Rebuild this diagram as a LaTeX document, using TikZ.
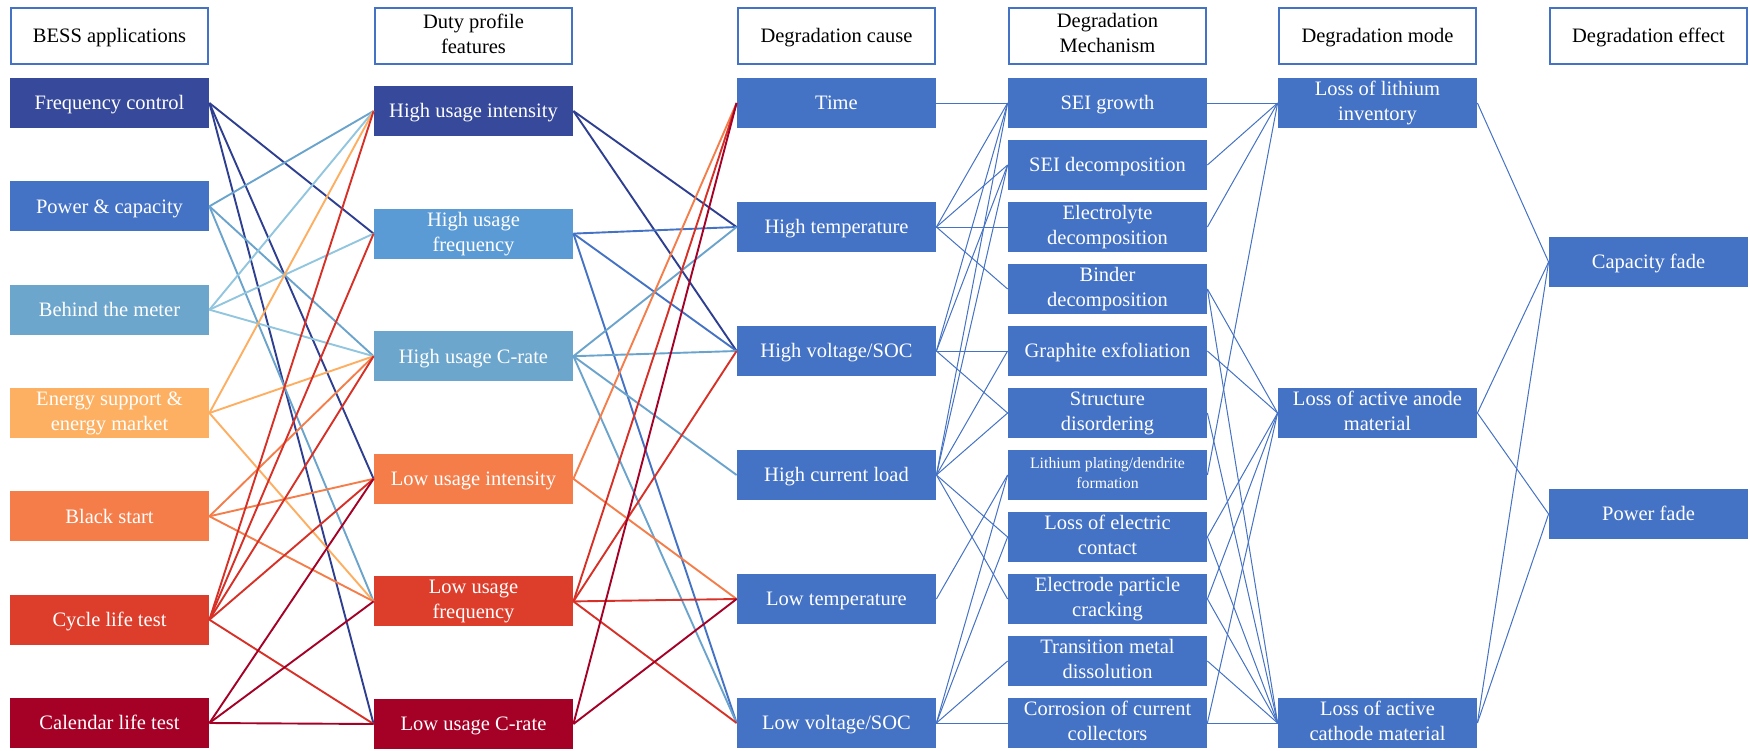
\documentclass[tikz,border=0pt]{standalone}
\usepackage{fontspec}
\setmainfont{Liberation Serif}
\definecolor{cA}{HTML}{36499A}
\definecolor{cB}{HTML}{4472C4}
\definecolor{cC}{HTML}{6CA6CD}
\definecolor{cD}{HTML}{FDB062}
\definecolor{cE}{HTML}{F47D4A}
\definecolor{cF}{HTML}{DD3E2C}
\definecolor{cG}{HTML}{A50026}
\definecolor{cH}{HTML}{5B9BD5}
\definecolor{lA}{HTML}{2E3F91}
\definecolor{lB}{HTML}{6AA3CC}
\definecolor{lC}{HTML}{92C5DE}
\definecolor{lD}{HTML}{FDAE61}
\definecolor{lE}{HTML}{F47D4A}
\definecolor{lF}{HTML}{D73027}
\definecolor{lG}{HTML}{A50026}
\definecolor{lH}{HTML}{4472C4}
\newcommand\sx{\rule[-0.216em]{0pt}{1.107em}}
\begin{document}
\begin{tikzpicture}[x=0.5pt,y=-0.5pt,
  b1/.style={rectangle, minimum width=99.5pt, minimum height=25pt, inner sep=0pt,
    text=white, align=center, font=\fontsize{10.25}{12.5}\selectfont,
    execute at begin node=\sx},
  h1s/.style={rectangle, draw=lH, line width=1pt, fill=white, minimum width=98.5pt,
    minimum height=28pt, inner sep=0pt, align=center, text=black,
    font=\fontsize{10.25}{12.5}\selectfont, execute at begin node=\sx},
  thick1/.style={line width=0.95pt},
  thin1/.style={line width=0.5pt, draw=lH}]
\useasboundingbox (0,0) rectangle (1750,750);
% headers
\node[h1s] (h1) at (109.5,35.5) {BESS applications};
\node[h1s] (h2) at (473.5,35.5) {Duty profile\\\smash{features}};
\node[h1s] (h3) at (836.5,35.5) {Degradation cause};
\node[h1s] (h4) at (1107.5,35.5) {Degradation\\\smash{Mechanism}};
\node[h1s] (h5) at (1377.5,35.5) {Degradation mode};
\node[h1s] (h6) at (1648.5,35.5) {Degradation effect};
% column 1
\node[b1,fill=cA] (fc) at (109.5,103) {Frequency control};
\node[b1,fill=cB] (pc) at (109.5,206.3) {Power \& capacity};
\node[b1,fill=cC] (btm) at (109.5,309.7) {Behind the meter};
\node[b1,fill=cD] (es) at (109.5,413) {Energy support \&\\\smash{energy market}};
\node[b1,fill=cE] (bs) at (109.5,516.3) {Black start};
\node[b1,fill=cF] (clt) at (109.5,619.7) {Cycle life test};
\node[b1,fill=cG] (cal) at (109.5,723) {Calendar life test};
% column 2
\node[b1,fill=cA] (hui) at (473.5,111) {High usage intensity};
\node[b1,fill=cH] (huf) at (473.5,233.6) {High usage\\\smash{frequency}};
\node[b1,fill=cC] (huc) at (473.5,356.2) {High usage C-rate};
\node[b1,fill=cE] (lui) at (473.5,478.8) {Low usage intensity};
\node[b1,fill=cF] (luf) at (473.5,601.4) {Low usage\\\smash{frequency}};
\node[b1,fill=cG] (luc) at (473.5,724) {Low usage C-rate};
% column 3
\node[b1,fill=cB] (time) at (836.5,103) {Time};
\node[b1,fill=cB] (ht) at (836.5,227) {High temperature};
\node[b1,fill=cB] (hv) at (836.5,351) {High voltage/SOC};
\node[b1,fill=cB] (hcl) at (836.5,475) {High current load};
\node[b1,fill=cB] (lt) at (836.5,599) {Low temperature};
\node[b1,fill=cB] (lv) at (836.5,723) {Low voltage/SOC};
% column 4
\node[b1,fill=cB] (m1) at (1107.5,103) {SEI growth};
\node[b1,fill=cB] (m2) at (1107.5,165) {SEI decomposition};
\node[b1,fill=cB] (m3) at (1107.5,227) {Electrolyte\\\smash{decomposition}};
\node[b1,fill=cB] (m4) at (1107.5,289) {Binder\\\smash{decomposition}};
\node[b1,fill=cB] (m5) at (1107.5,351) {Graphite exfoliation};
\node[b1,fill=cB] (m6) at (1107.5,413) {Structure\\\smash{disordering}};
\node[b1,fill=cB,font=\fontsize{7.9}{10}\selectfont] (m7) at (1107.5,475) {Lithium plating/dendrite\\\smash{formation}};
\node[b1,fill=cB] (m8) at (1107.5,537) {Loss of electric\\\smash{contact}};
\node[b1,fill=cB] (m9) at (1107.5,599) {Electrode particle\\\smash{cracking}};
\node[b1,fill=cB] (m10) at (1107.5,661) {Transition metal\\\smash{dissolution}};
\node[b1,fill=cB] (m11) at (1107.5,723) {Corrosion of current\\\smash{collectors}};
% column 5
\node[b1,fill=cB] (lli) at (1377.5,103) {Loss of lithium\\\smash{inventory}};
\node[b1,fill=cB] (laam) at (1377.5,413) {Loss of active anode\\\smash{material}};
\node[b1,fill=cB] (lacm) at (1377.5,723) {Loss of active\\\smash{cathode material}};
% column 6
\node[b1,fill=cB] (cf) at (1648.5,262) {Capacity fade};
\node[b1,fill=cB] (pf) at (1648.5,514) {Power fade};
% column 1 -> column 2
\foreach \t in {huf,lui,luc} \draw[thick1,lA] (fc.east) -- (\t.west);
\foreach \t in {hui,huc,luf} \draw[thick1,lB] (pc.east) -- (\t.west);
\foreach \t in {hui,huf,huc} \draw[thick1,lC] (btm.east) -- (\t.west);
\foreach \t in {hui,huc,luf} \draw[thick1,lD] (es.east) -- (\t.west);
\foreach \t in {huc,lui,luf} \draw[thick1,lE] (bs.east) -- (\t.west);
\foreach \t in {hui,huf,huc,lui,luc} \draw[thick1,lF] (clt.east) -- (\t.west);
\foreach \t in {lui,luf,luc} \draw[thick1,lG] (cal.east) -- (\t.west);
% column 2 -> column 3
\foreach \t in {ht,hv} \draw[thick1,lA] (hui.east) -- (\t.west);
\foreach \t in {ht,hv,lv} \draw[thick1,lH] (huf.east) -- (\t.west);
\foreach \t in {ht,hv,hcl,lv} \draw[thick1,lB] (huc.east) -- (\t.west);
\foreach \t in {time,lt} \draw[thick1,lE] (lui.east) -- (\t.west);
\foreach \t in {time,hv,lt,lv} \draw[thick1,lF] (luf.east) -- (\t.west);
\foreach \t in {time,lt} \draw[thick1,lG] (luc.east) -- (\t.west);
% column 3 -> column 4
\draw[thin1] (time.east) -- (m1.west);
\foreach \t in {m1,m2,m3,m4} \draw[thin1] (ht.east) -- (\t.west);
\foreach \t in {m1,m2,m5,m6} \draw[thin1] (hv.east) -- (\t.west);
\foreach \t in {m1,m2,m5,m6,m8,m9} \draw[thin1] (hcl.east) -- (\t.west);
\draw[thin1] (lt.east) -- (m7.west);
\foreach \t in {m7,m8,m10,m11} \draw[thin1] (lv.east) -- (\t.west);
% column 4 -> column 5
\foreach \s in {m1,m2,m3,m7} \draw[thin1] (\s.east) -- (lli.west);
\foreach \s in {m4,m5,m8,m9,m11} \draw[thin1] (\s.east) -- (laam.west);
\foreach \s in {m4,m6,m8,m9,m10,m11} \draw[thin1] (\s.east) -- (lacm.west);
% column 5 -> column 6
\foreach \s in {lli,laam,lacm} \draw[thin1] (\s.east) -- (cf.west);
\foreach \s in {laam,lacm} \draw[thin1] (\s.east) -- (pf.west);
\end{tikzpicture}
\end{document}
